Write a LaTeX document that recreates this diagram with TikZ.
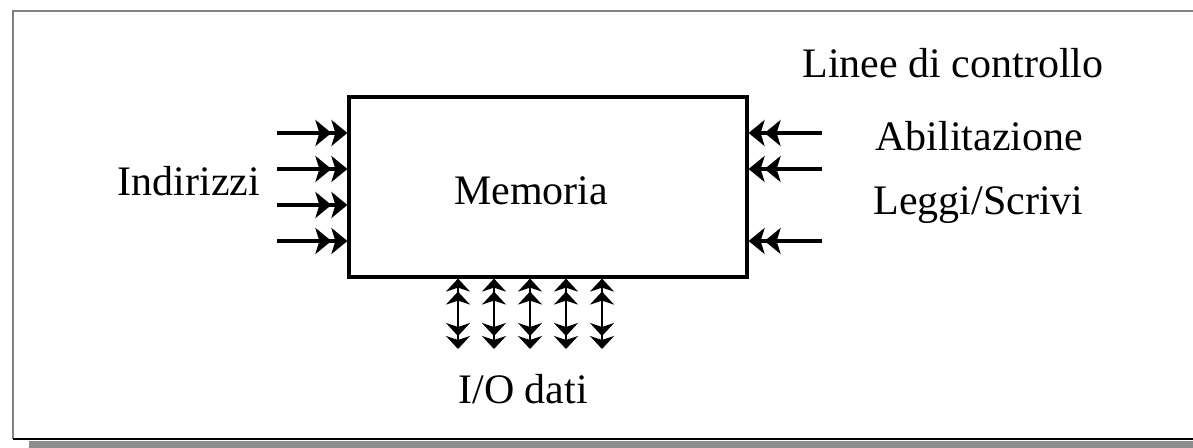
\documentclass[tikz,border=0pt]{standalone}
\usepackage{fontspec}
\setmainfont{Liberation Serif}
\usetikzlibrary{arrows.meta}
\definecolor{frameGray}{HTML}{808080}
\definecolor{shadowGray}{HTML}{8E8E8E}

\begin{document}
\begin{tikzpicture}[x=0.5pt, y=-0.5pt,
  every node/.style={font=\fontsize{21}{25}\selectfont, inner sep=0pt},
  mem/.style={draw, line width=1.6pt, minimum width=199pt, minimum height=90pt},
  sig/.style={line width=1.7pt,
              -{Stealth[length=8pt,width=13pt,inset=2pt] Stealth[length=8pt,width=13pt,inset=2pt]}},
  bus/.style={line width=1.2pt,
              {Stealth[length=6.5pt,width=12pt,inset=2pt] Stealth[length=6.5pt,width=12pt,inset=2pt]}-{Stealth[length=6.5pt,width=12pt,inset=2pt] Stealth[length=6.5pt,width=12pt,inset=2pt]}}]
\useasboundingbox (0,0) rectangle (1193,448);
% cornice
\fill[shadowGray] (29,441) rectangle (1193,448);
\draw[frameGray, line width=1pt] (13,439) |- (1193,11);
\draw[line width=1pt] (13,439) -- (1193,439);

\node[mem] (mem) at (548,187) {};
\node[anchor=base] (memlbl) at (531,205) {Memoria};

% indirizzi
\foreach \y [count=\i] in {133,169,205,241} {
  \coordinate (a\i) at (277,\y);
  \draw[sig] (a\i) -- (a\i -| mem.west);
}
\node[anchor=base] (addr) at (189,196) {Indirizzi};

% linee di controllo
\foreach \y [count=\i] in {133,169,241} {
  \coordinate (c\i) at (822,\y);
  \draw[sig] (c\i) -- (c\i -| mem.east);
}
\node[anchor=base west] (ctrl)   at (802,78)  {Linee di controllo};
\node[anchor=base west] (enable) at (875,151) {Abilitazione};
\node[anchor=base west] (rw)     at (873,215) {Leggi/Scrivi};

% dati
\foreach \x [count=\i] in {458,494,530,566,602} {
  \coordinate (d\i) at (\x,349);
  \draw[bus] (d\i |- mem.south) -- (d\i);
}
\node[anchor=base west] (io) at (458,403) {I/O dati};
\end{tikzpicture}
\end{document}
